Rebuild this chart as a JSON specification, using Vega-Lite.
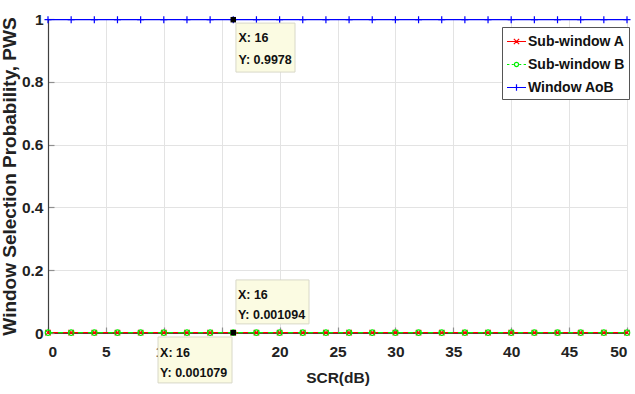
{
  "$schema": "https://vega.github.io/schema/vega-lite/v6.json",
  "width": 579,
  "height": 314,
  "padding": {"left": 48, "top": 19, "right": 8, "bottom": 61},
  "autosize": {"type": "none"},
  "background": "white",
  "config": {
    "view": {"stroke": null},
    "font": "Liberation Sans",
    "axis": {
      "labelFont": "Liberation Sans",
      "labelFontWeight": "bold",
      "labelFontSize": 15.5,
      "labelColor": "#222222",
      "titleFont": "Liberation Sans",
      "titleFontWeight": "bold",
      "titleColor": "#222222",
      "gridColor": "#e3e3e3",
      "gridWidth": 1,
      "domainColor": "#404040",
      "domainWidth": 1.2,
      "tickColor": "#909090",
      "tickSize": -6,
      "tickWidth": 1.2
    }
  },
  "datasets": {
    "series": [
      {"scr": 0, "series": "Sub-window A", "p": 0.00108}, {"scr": 2, "series": "Sub-window A", "p": 0.00108}, {"scr": 4, "series": "Sub-window A", "p": 0.00108}, {"scr": 6, "series": "Sub-window A", "p": 0.00108}, {"scr": 8, "series": "Sub-window A", "p": 0.00108}, {"scr": 10, "series": "Sub-window A", "p": 0.00108}, {"scr": 12, "series": "Sub-window A", "p": 0.00108}, {"scr": 14, "series": "Sub-window A", "p": 0.00108}, {"scr": 16, "series": "Sub-window A", "p": 0.001079}, {"scr": 18, "series": "Sub-window A", "p": 0.00108}, {"scr": 20, "series": "Sub-window A", "p": 0.00108}, {"scr": 22, "series": "Sub-window A", "p": 0.00108}, {"scr": 24, "series": "Sub-window A", "p": 0.00108}, {"scr": 26, "series": "Sub-window A", "p": 0.00108}, {"scr": 28, "series": "Sub-window A", "p": 0.00108}, {"scr": 30, "series": "Sub-window A", "p": 0.00108}, {"scr": 32, "series": "Sub-window A", "p": 0.00108}, {"scr": 34, "series": "Sub-window A", "p": 0.00108}, {"scr": 36, "series": "Sub-window A", "p": 0.00108}, {"scr": 38, "series": "Sub-window A", "p": 0.00108}, {"scr": 40, "series": "Sub-window A", "p": 0.00108}, {"scr": 42, "series": "Sub-window A", "p": 0.00108}, {"scr": 44, "series": "Sub-window A", "p": 0.00108}, {"scr": 46, "series": "Sub-window A", "p": 0.00108}, {"scr": 48, "series": "Sub-window A", "p": 0.00108}, {"scr": 50, "series": "Sub-window A", "p": 0.00108},
      {"scr": 0, "series": "Sub-window B", "p": 0.00109}, {"scr": 2, "series": "Sub-window B", "p": 0.00109}, {"scr": 4, "series": "Sub-window B", "p": 0.00109}, {"scr": 6, "series": "Sub-window B", "p": 0.00109}, {"scr": 8, "series": "Sub-window B", "p": 0.00109}, {"scr": 10, "series": "Sub-window B", "p": 0.00109}, {"scr": 12, "series": "Sub-window B", "p": 0.00109}, {"scr": 14, "series": "Sub-window B", "p": 0.00109}, {"scr": 16, "series": "Sub-window B", "p": 0.001094}, {"scr": 18, "series": "Sub-window B", "p": 0.00109}, {"scr": 20, "series": "Sub-window B", "p": 0.00109}, {"scr": 22, "series": "Sub-window B", "p": 0.00109}, {"scr": 24, "series": "Sub-window B", "p": 0.00109}, {"scr": 26, "series": "Sub-window B", "p": 0.00109}, {"scr": 28, "series": "Sub-window B", "p": 0.00109}, {"scr": 30, "series": "Sub-window B", "p": 0.00109}, {"scr": 32, "series": "Sub-window B", "p": 0.00109}, {"scr": 34, "series": "Sub-window B", "p": 0.00109}, {"scr": 36, "series": "Sub-window B", "p": 0.00109}, {"scr": 38, "series": "Sub-window B", "p": 0.00109}, {"scr": 40, "series": "Sub-window B", "p": 0.00109}, {"scr": 42, "series": "Sub-window B", "p": 0.00109}, {"scr": 44, "series": "Sub-window B", "p": 0.00109}, {"scr": 46, "series": "Sub-window B", "p": 0.00109}, {"scr": 48, "series": "Sub-window B", "p": 0.00109}, {"scr": 50, "series": "Sub-window B", "p": 0.00109},
      {"scr": 0, "series": "Window AoB", "p": 0.9978}, {"scr": 2, "series": "Window AoB", "p": 0.9978}, {"scr": 4, "series": "Window AoB", "p": 0.9978}, {"scr": 6, "series": "Window AoB", "p": 0.9978}, {"scr": 8, "series": "Window AoB", "p": 0.9978}, {"scr": 10, "series": "Window AoB", "p": 0.9978}, {"scr": 12, "series": "Window AoB", "p": 0.9978}, {"scr": 14, "series": "Window AoB", "p": 0.9978}, {"scr": 16, "series": "Window AoB", "p": 0.9978}, {"scr": 18, "series": "Window AoB", "p": 0.9978}, {"scr": 20, "series": "Window AoB", "p": 0.9978}, {"scr": 22, "series": "Window AoB", "p": 0.9978}, {"scr": 24, "series": "Window AoB", "p": 0.9978}, {"scr": 26, "series": "Window AoB", "p": 0.9978}, {"scr": 28, "series": "Window AoB", "p": 0.9978}, {"scr": 30, "series": "Window AoB", "p": 0.9978}, {"scr": 32, "series": "Window AoB", "p": 0.9978}, {"scr": 34, "series": "Window AoB", "p": 0.9978}, {"scr": 36, "series": "Window AoB", "p": 0.9978}, {"scr": 38, "series": "Window AoB", "p": 0.9978}, {"scr": 40, "series": "Window AoB", "p": 0.9978}, {"scr": 42, "series": "Window AoB", "p": 0.9978}, {"scr": 44, "series": "Window AoB", "p": 0.9978}, {"scr": 46, "series": "Window AoB", "p": 0.9978}, {"scr": 48, "series": "Window AoB", "p": 0.9978}, {"scr": 50, "series": "Window AoB", "p": 0.9978}
    ],
    "boxes": [
      {"x1": 16.23, "x2": 21.33, "y1": 0.987, "y2": 0.831},
      {"x1": 16.23, "x2": 22.54, "y1": 0.169, "y2": 0.029},
      {"x1": 9.5, "x2": 15.89, "y1": -0.0127, "y2": -0.159}
    ],
    "labels": [
      {"x": 16.45, "y": 0.939, "t": "X: 16"},
      {"x": 16.45, "y": 0.869, "t": "Y: 0.9978"},
      {"x": 16.4, "y": 0.121, "t": "X: 16"},
      {"x": 16.4, "y": 0.057, "t": "Y: 0.001094"},
      {"x": 9.68, "y": -0.064, "t": "X: 16"},
      {"x": 9.68, "y": -0.127, "t": "Y: 0.001079"}
    ],
    "tips": [
      {"x": 16, "y": 0.9978},
      {"x": 16, "y": 0.001094}
    ]
  },
  "layer": [
    {
      "data": {"name": "series"},
      "transform": [{"filter": "datum.series === 'Window AoB'"}],
      "mark": {"type": "line", "strokeWidth": 1.3},
      "encoding": {
        "x": {"field": "scr", "type": "quantitative", "scale": {"domain": [0, 50], "nice": false},
          "axis": {"values": [0, 5, 10, 15, 20, 25, 30, 35, 40, 45, 50], "title": "SCR(dB)", "titleFontSize": 15.5, "titlePadding": 11, "labelPadding": 17}},
        "y": {"field": "p", "type": "quantitative", "scale": {"domain": [0, 1], "nice": false},
          "axis": {"values": [0, 0.2, 0.4, 0.6, 0.8, 1], "format": "~g", "title": "Window Selection Probability, PWS", "titleFontSize": 19, "titlePadding": 2, "labelPadding": 11}},
        "color": {"field": "series", "type": "nominal",
          "scale": {"domain": ["Sub-window A", "Sub-window B", "Window AoB"], "range": ["#ff0000", "#00ee00", "#0000ff"]},
          "legend": {
            "title": null, "orient": "none", "legendX": 454, "legendY": 8,
            "fillColor": "white", "strokeColor": "#555555", "padding": 4,
            "labelFont": "Liberation Sans", "labelFontWeight": "bold", "labelFontSize": 14, "labelColor": "#111111",
            "symbolSize": 361, "symbolStrokeWidth": 1.2, "rowPadding": 5, "labelOffset": 1,
            "encode": {"symbols": {"update": {
              "shape": {"signal": "datum.value === 'Sub-window A' ? 'M-1,0L1,0M-0.28,-0.28L0.28,0.28M-0.28,0.28L0.28,-0.28' : datum.value === 'Sub-window B' ? 'M-1,0L-0.75,0M-0.5,0L-0.3,0M0.3,0L0.5,0M0.75,0L1,0M0.22,0A0.22,0.22,0,1,1,-0.22,0A0.22,0.22,0,1,1,0.22,0' : 'M-1,0L1,0M0,-0.35L0,0.35'"},
              "fill": {"value": "transparent"}
            }}}
          }}
      }
    },
    {
      "data": {"name": "series"},
      "transform": [{"filter": "datum.series === 'Sub-window A'"}],
      "mark": {"type": "line", "strokeWidth": 1.3},
      "encoding": {
        "x": {"field": "scr", "type": "quantitative"},
        "y": {"field": "p", "type": "quantitative"},
        "color": {"field": "series", "type": "nominal"}
      }
    },
    {
      "data": {"name": "series"},
      "transform": [{"filter": "datum.series === 'Sub-window B'"}],
      "mark": {"type": "line", "strokeWidth": 1.3, "strokeDash": [5, 5]},
      "encoding": {
        "x": {"field": "scr", "type": "quantitative"},
        "y": {"field": "p", "type": "quantitative"},
        "color": {"field": "series", "type": "nominal"}
      }
    },
    {
      "data": {"name": "series"},
      "transform": [{"filter": "datum.series === 'Sub-window A'"}],
      "mark": {"type": "point", "shape": "M-1,-1L1,1M-1,1L1,-1", "size": 30, "filled": false, "strokeWidth": 1.2, "opacity": 1},
      "encoding": {
        "x": {"field": "scr", "type": "quantitative"},
        "y": {"field": "p", "type": "quantitative"},
        "color": {"field": "series", "type": "nominal"}
      }
    },
    {
      "data": {"name": "series"},
      "transform": [{"filter": "datum.series === 'Sub-window B'"}],
      "mark": {"type": "point", "shape": "circle", "size": 30, "filled": false, "strokeWidth": 1.2, "opacity": 1},
      "encoding": {
        "x": {"field": "scr", "type": "quantitative"},
        "y": {"field": "p", "type": "quantitative"},
        "color": {"field": "series", "type": "nominal"}
      }
    },
    {
      "data": {"name": "series"},
      "transform": [{"filter": "datum.series === 'Window AoB'"}],
      "mark": {"type": "point", "shape": "M-1,0L1,0M0,-1L0,1", "size": 49, "filled": false, "strokeWidth": 1.2, "opacity": 1},
      "encoding": {
        "x": {"field": "scr", "type": "quantitative"},
        "y": {"field": "p", "type": "quantitative"},
        "color": {"field": "series", "type": "nominal"}
      }
    },
    {
      "data": {"name": "tips"},
      "mark": {"type": "square", "color": "black", "size": 30, "opacity": 1},
      "encoding": {
        "x": {"field": "x", "type": "quantitative"},
        "y": {"field": "y", "type": "quantitative"}
      }
    },
    {
      "data": {"name": "boxes"},
      "mark": {"type": "rect", "fill": "#fbfbe2", "stroke": "#d8d8c8", "strokeWidth": 1},
      "encoding": {
        "x": {"field": "x1", "type": "quantitative"},
        "x2": {"field": "x2"},
        "y": {"field": "y1", "type": "quantitative"},
        "y2": {"field": "y2"}
      }
    },
    {
      "data": {"name": "labels"},
      "mark": {"type": "text", "align": "left", "baseline": "middle", "font": "Liberation Sans", "fontWeight": "bold", "fontSize": 12.5, "color": "#111111"},
      "encoding": {
        "x": {"field": "x", "type": "quantitative"},
        "y": {"field": "y", "type": "quantitative"},
        "text": {"field": "t"}
      }
    }
  ]
}
